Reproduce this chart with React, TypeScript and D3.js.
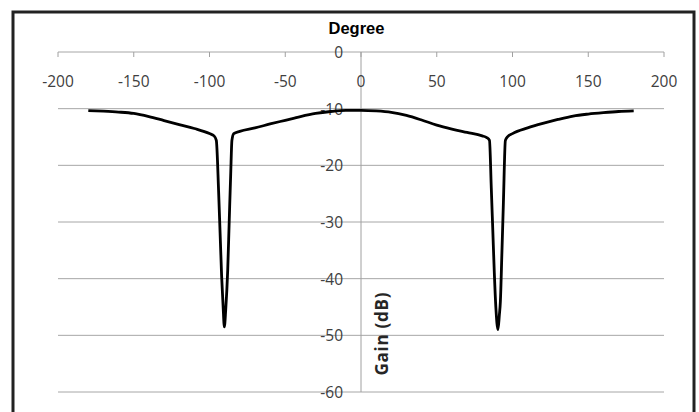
import React from "react";
import * as d3 from "d3";

const degrees = [-180,-170,-160,-150,-140,-130,-120,-110,-100,-97,-95.5,-94,-93,-92,-91,-90.2,-89.3,-88,-87,-86,-85.2,-84,-80,-70,-60,-50,-40,-30,-20,-10,0,10,20,30,40,50,60,70,80,83,84.8,86,87,88,89,90.4,91.3,92,93,94,95.3,97,100,110,120,130,140,150,160,170,180];
const gains = [-10.35,-10.45,-10.6,-10.85,-11.4,-12.1,-12.8,-13.5,-14.4,-14.8,-15.6,-24.5,-32,-39.5,-45,-48.5,-45.5,-38.6,-30,-21.5,-15.6,-14.4,-14.0,-13.4,-12.7,-12.05,-11.4,-10.85,-10.5,-10.3,-10.3,-10.4,-10.65,-11.2,-12.0,-12.9,-13.6,-14.2,-14.8,-15.1,-15.6,-24,-31.5,-39,-45,-49,-46.5,-44,-35.5,-26.5,-15.6,-14.9,-14.4,-13.4,-12.6,-11.9,-11.3,-10.95,-10.7,-10.5,-10.4];
const xTicks = [-200,-150,-100,-50,0,50,100,150,200];
const yTicks = [0,-10,-20,-30,-40,-50,-60];
const xTitle = "Degree";
const yTitle = "Gain (dB)";

export default function App() {
  const x = d3.scaleLinear().domain([-200, 200]).range([58, 664]);
  const y = d3.scaleLinear().domain([0, -60]).range([52, 392]);
  const pts = degrees.map((d, i) => [d, gains[i]] as [number, number]);
  const line = d3.line<[number, number]>().x(d => x(d[0])).y(d => y(d[1])).curve(d3.curveMonotoneX);
  const tickFont = "'Open Sans', sans-serif";
  return (
    <svg width={699} height={412} style={{ position: "absolute", left: 0, top: 0, background: "#fff" }}>
      <rect x={0} y={0} width={699} height={412} fill="#fff" />
      <rect x={13} y={12} width={681} height={430} fill="none" stroke="#222" strokeWidth={3} />
      {yTicks.map(t => (
        <line key={"g" + t} x1={x(-200)} x2={x(200)} y1={y(t)} y2={y(t)} stroke="#a6a6a6" strokeWidth={1} />
      ))}
      <line x1={x(0)} x2={x(0)} y1={y(0)} y2={y(-60)} stroke="#a0a0a0" strokeWidth={1} />
      {xTicks.map(t => (
        <line key={"t" + t} x1={x(t)} x2={x(t)} y1={y(0)} y2={y(0) + 5} stroke="#a0a0a0" strokeWidth={1} />
      ))}
      {yTicks.map(t => (
        <text key={"yl" + t} x={x(0) - 18} y={y(t)} textAnchor="end" dominantBaseline="central"
          fontFamily={tickFont} fontSize={15.5} fill="#404040">{t}</text>
      ))}
      {xTicks.map(t => (
        <text key={"xl" + t} x={x(t)} y={87} textAnchor="middle"
          fontFamily={tickFont} fontSize={15.5} fill="#404040">{t}</text>
      ))}
      <path d={line(pts) || ""} fill="none" stroke="#000" strokeWidth={2.8} strokeLinejoin="round" />
      <text x={356.5} y={34} textAnchor="middle" fontFamily="'Liberation Sans', Arial, sans-serif"
        fontWeight="bold" fontSize={16.5} fill="#000">{xTitle}</text>
      <text transform={`translate(388,334) rotate(-90)`} textAnchor="middle"
        fontFamily={tickFont} fontWeight="bold" fontSize={17} fill="#262626" textLength={83} lengthAdjust="spacing">{yTitle}</text>
    </svg>
  );
}
